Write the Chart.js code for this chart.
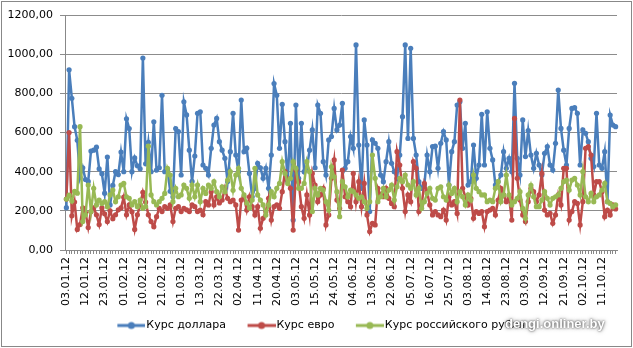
<!DOCTYPE html>
<html>
<head>
<meta charset="utf-8">
<script src="https://cdn.jsdelivr.net/npm/chart.js@4/dist/chart.umd.min.js"></script>
<style>
  html, body { margin: 0; padding: 0; background: #fff; }
  #wrap { position: relative; width: 633px; height: 348px; }
  #mark {
    position: absolute; left: 505px; top: 316px;
    font: bold 13px "Liberation Sans", Arial, sans-serif;
    color: #fff; text-shadow: 0 0 2px #444, 0 0 4px #777;
  }
</style>
</head>
<body>
<div id="wrap">
  <canvas id="chart" width="633" height="348"></canvas>
  <div id="mark">dengi.onliner.by</div>
</div>
<script>
// tick labels under the x axis, one every 7 trading days
const tickLabels = ["03.01.12", "12.01.12", "23.01.12", "01.02.12", "10.02.12", "21.02.12", "01.03.12",
  "13.03.12", "22.03.12", "02.04.12", "11.04.12", "20.04.12", "03.05.12", "15.05.12", "24.05.12",
  "04.06.12", "13.06.12", "22.06.12", "05.07.12", "16.07.12", "25.07.12", "03.08.12", "14.08.12",
  "23.08.12", "03.09.12", "12.09.12", "21.09.12", "02.10.12", "11.10.12"];

const seriesNames = ["Курс доллара", "Курс евро", "Курс российского рубля"];
const seriesColors = ["#4A7EBB", "#BE4B48", "#98B954"];

const usd = [
  216, 920, 775, 630, 560, 370, 420, 360, 350, 505,
  510, 525, 415, 390, 290, 475, 230, 330, 400, 385,
  500, 400, 670, 620, 400, 470, 430, 415, 980, 440,
  550, 400, 655, 408, 420, 790, 400, 410, 300, 272,
  620, 605, 383, 757, 690, 510, 350, 480, 698, 706,
  434, 417, 383, 519, 638, 672, 553, 510, 468, 350,
  502, 698, 485, 400, 766, 502, 520, 391, 272, 315,
  443, 420, 366, 417, 315, 485, 850, 790, 519, 744,
  553, 350, 647, 153, 740, 366, 647, 400, 417, 510,
  613, 420, 740, 698, 451, 383, 562, 579, 723, 613,
  638, 749, 417, 451, 579, 519, 1047, 536, 315, 664,
  536, 196, 562, 545, 519, 383, 349, 451, 553, 443,
  400, 366, 485, 681, 1047, 570, 1030, 570, 485, 349,
  315, 332, 485, 400, 528, 530, 417, 545, 604, 562,
  332, 502, 553, 740, 757, 519, 647, 332, 349, 536,
  366, 434, 693, 434, 706, 519, 460, 332, 349, 383,
  502, 417, 468, 400, 851, 468, 383, 664, 477, 610,
  485, 417, 494, 434, 383, 494, 528, 434, 408, 545,
  817, 621, 510, 434, 621, 723, 727, 698, 434, 613,
  596, 553, 468, 426, 698, 434, 417, 502, 247, 689,
  638, 630
];

const eur = [
  260, 600, 175, 245, 105, 130, 215, 190, 115, 195,
  215, 180, 130, 215, 185, 145, 200, 160, 180, 205,
  215, 270, 180, 230, 195, 105, 180, 230, 295, 245,
  180, 145, 119, 170, 213, 196, 221, 213, 230, 145,
  213, 221, 196, 213, 205, 196, 230, 221, 196, 204,
  180, 247, 230, 298, 230, 272, 240, 255, 315, 264,
  247, 255, 230, 102, 255, 272, 204, 272, 221, 179,
  221, 111, 162, 196, 264, 153, 221, 230, 213, 298,
  400, 357, 315, 102, 408, 349, 221, 162, 281, 179,
  391, 332, 247, 281, 315, 128, 179, 366, 460, 255,
  213, 408, 272, 247, 221, 391, 247, 349, 221, 340,
  179, 94, 136, 128, 315, 281, 272, 315, 264, 238,
  221, 502, 434, 315, 196, 281, 247, 451, 417, 196,
  230, 340, 298, 230, 179, 196, 179, 170, 204, 153,
  272, 230, 247, 187, 766, 315, 272, 230, 264, 162,
  196, 187, 196, 119, 196, 204, 213, 179, 255, 315,
  281, 247, 272, 153, 672, 366, 255, 179, 145, 247,
  315, 298, 247, 281, 391, 204, 179, 187, 136, 179,
  281, 230, 417, 417, 153, 196, 247, 238, 128, 247,
  519, 528, 485, 281, 349, 349, 298, 170, 204, 179,
  230, 210
];

const rub = [
  260, 280, 250, 300, 290, 630, 145, 179, 332, 196,
  315, 230, 255, 238, 247, 221, 281, 306, 247, 272,
  332, 340, 272, 264, 230, 247, 221, 255, 213, 221,
  530, 281, 247, 230, 247, 264, 289, 417, 383, 247,
  315, 272, 281, 332, 315, 264, 332, 272, 332, 247,
  315, 289, 332, 315, 349, 298, 272, 323, 298, 357,
  400, 305, 383, 417, 315, 281, 240, 215, 255, 417,
  281, 255, 230, 179, 230, 298, 272, 315, 340, 451,
  391, 340, 366, 451, 417, 315, 315, 340, 451, 400,
  196, 315, 281, 315, 306, 247, 204, 425, 374, 298,
  170, 349, 323, 272, 306, 298, 281, 264, 272, 247,
  213, 247, 485, 366, 247, 272, 315, 272, 306, 332,
  255, 323, 366, 349, 383, 332, 315, 349, 281, 315,
  213, 247, 289, 315, 264, 255, 315, 323, 272, 255,
  332, 289, 315, 247, 298, 272, 230, 281, 255, 383,
  315, 298, 281, 281, 247, 255, 247, 315, 349, 247,
  281, 383, 281, 230, 247, 264, 298, 213, 162, 281,
  330, 272, 221, 221, 255, 298, 264, 230, 264, 272,
  281, 315, 349, 357, 306, 357, 366, 332, 281, 400,
  272, 247, 289, 247, 272, 281, 306, 340, 247, 238,
  221, 230
];

const categories = usd.map((_, i) => (i % 7 === 0 && tickLabels[i / 7]) ? tickLabels[i / 7] : "");

const FONT = { family: "'DejaVu Sans', sans-serif", size: 11 };

// legend marker: short line with a dot, like Excel.
// transparent 20px on the left gives the gap between legend items
function legendMarker(color) {
  const c = document.createElement("canvas");
  c.width = 48; c.height = 10;
  const g = c.getContext("2d");
  g.strokeStyle = color; g.lineWidth = 3;
  g.beginPath(); g.moveTo(20, 5); g.lineTo(48, 5); g.stroke();
  g.fillStyle = color;
  g.beginPath(); g.arc(34, 5, 3.5, 0, Math.PI * 2); g.fill();
  return c;
}
const markers = seriesColors.map(legendMarker);

// grey frame round the whole picture; legend nudged right a little
const frame = {
  id: "frame",
  afterLayout(chart) {
    chart.legend.left += 5;
    chart.legend.right += 5;
  },
  afterDraw(chart) {
    const ctx = chart.ctx;
    ctx.save();
    ctx.strokeStyle = "#888";
    ctx.lineWidth = 1;
    ctx.strokeRect(1.5, 1.5, 630, 345);
    ctx.restore();
  }
};

const series = [usd, eur, rub];

new Chart(document.getElementById("chart"), {
  type: "line",
  data: {
    labels: categories,
    datasets: series.map((data, k) => ({
      label: seriesNames[k],
      data,
      borderColor: seriesColors[k],
      backgroundColor: seriesColors[k],
      borderWidth: 2.5,
      pointRadius: 2.6,
      pointBorderWidth: 0,
      tension: 0,
      order: 3 - k
    }))
  },
  options: {
    responsive: false,
    animation: false,
    layout: { padding: { left: 0, right: 16, top: 15, bottom: 7 } },
    scales: {
      x: {
        offset: true,
        afterFit: s => { s.height = 64; },
        grid: { display: true, drawOnChartArea: false, drawTicks: true, tickLength: 4, color: "#888" },
        border: { color: "#888" },
        ticks: {
          autoSkip: false, maxRotation: 90, minRotation: 90, padding: 3,
          color: "#000", font: FONT
        }
      },
      y: {
        min: 0, max: 1200,
        afterFit: s => { s.width = 65; },
        grid: { color: "#8c8c8c", tickLength: 5 },
        border: { color: "#888" },
        ticks: {
          stepSize: 200, padding: 7, color: "#000", font: FONT,
          callback: v => v.toFixed(2).replace(".", ",")
        }
      }
    },
    plugins: {
      tooltip: { enabled: false },
      legend: {
        position: "bottom",
        labels: {
          usePointStyle: true,
          pointStyleWidth: 39,
          padding: 6,
          color: "#000",
          font: FONT,
          generateLabels: chart => chart.data.datasets.map((ds, i) => ({
            text: ds.label,
            pointStyle: markers[i],
            fillStyle: ds.borderColor,
            strokeStyle: ds.borderColor,
            lineWidth: 0,
            hidden: false,
            datasetIndex: i
          }))
        }
      }
    }
  },
  plugins: [frame]
});
</script>
</body>
</html>
